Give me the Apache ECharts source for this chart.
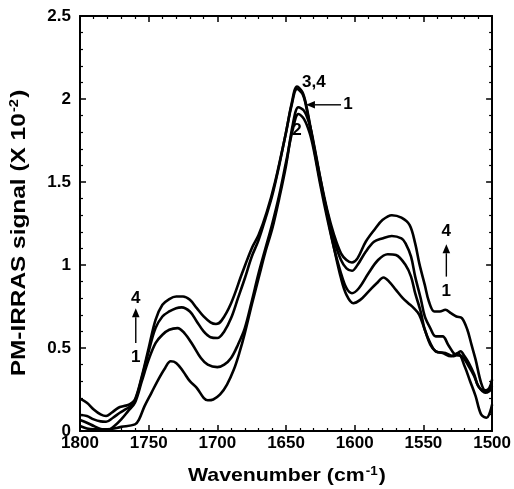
<!DOCTYPE html>
<html>
<head>
<meta charset="utf-8">
<script src="https://cdn.jsdelivr.net/npm/echarts@6/dist/echarts.min.js"></script>
<style>html,body{margin:0;padding:0;background:#fff}#c{width:514px;height:489px}</style>
</head>
<body>
<div id="c"></div>
<script>
// Axis ticks
const xTicks = [1500, 1550, 1600, 1650, 1700, 1750, 1800];
const yTicks = [0, 0.5, 1, 1.5, 2, 2.5];

// Spectra: [wavenumber (cm-1), PM-IRRAS signal (x 10^-2)]
const curve4 = [[1800,0.195],[1795,0.17],[1790,0.13],[1785,0.10],[1781,0.09],[1777,0.11],[1772,0.14],[1768,0.15],[1764,0.16],[1760,0.19],[1755,0.33],[1750,0.50],[1745,0.67],[1740,0.76],[1735,0.795],[1730,0.81],[1725,0.81],[1720,0.79],[1715,0.74],[1710,0.69],[1705,0.655],[1701,0.645],[1697,0.665],[1690,0.77],[1682,0.95],[1675,1.10],[1670,1.18],[1664,1.32],[1658,1.50],[1650,1.80],[1646,1.97],[1642,2.075],[1638,2.04],[1635,1.95],[1630,1.73],[1625,1.52],[1620,1.33],[1615,1.18],[1610,1.07],[1606,1.03],[1602,1.015],[1598,1.04],[1592,1.14],[1585,1.22],[1580,1.27],[1573,1.30],[1566,1.285],[1560,1.24],[1556,1.13],[1553,1.01],[1549,0.88],[1546,0.78],[1542,0.72],[1538,0.72],[1534,0.73],[1530,0.71],[1526,0.69],[1522,0.68],[1518,0.61],[1515,0.52],[1512,0.43],[1508,0.29],[1505,0.245],[1502,0.26],[1500,0.31]];
const curve3 = [[1800,0.096],[1795,0.09],[1790,0.07],[1785,0.058],[1781,0.056],[1776,0.08],[1771,0.11],[1767,0.13],[1763,0.15],[1760,0.18],[1755,0.32],[1750,0.48],[1745,0.62],[1740,0.69],[1735,0.72],[1730,0.74],[1726,0.745],[1720,0.72],[1715,0.66],[1710,0.60],[1705,0.565],[1700,0.56],[1695,0.60],[1690,0.68],[1685,0.80],[1680,0.92],[1675,1.05],[1670,1.15],[1665,1.28],[1660,1.42],[1655,1.60],[1650,1.80],[1646,1.96],[1642,2.06],[1638,2.03],[1635,1.94],[1630,1.72],[1625,1.50],[1620,1.32],[1615,1.15],[1610,1.03],[1606,0.98],[1602,0.965],[1598,1.0],[1592,1.08],[1586,1.14],[1580,1.16],[1573,1.175],[1566,1.16],[1563,1.13],[1559,1.05],[1556,0.93],[1552,0.80],[1549,0.69],[1545,0.62],[1541,0.57],[1536,0.57],[1532,0.52],[1527,0.46],[1522,0.45],[1517,0.39],[1513,0.33],[1510,0.27],[1505,0.23],[1502,0.24],[1500,0.26]];
const curve2 = [[1800,0.066],[1795,0.05],[1790,0.03],[1785,0.012],[1780,0.005],[1775,0.03],[1770,0.07],[1765,0.12],[1760,0.17],[1755,0.30],[1750,0.43],[1745,0.53],[1740,0.58],[1735,0.61],[1729,0.62],[1724,0.59],[1718,0.52],[1712,0.44],[1707,0.40],[1700,0.385],[1695,0.40],[1690,0.44],[1685,0.52],[1680,0.62],[1675,0.78],[1670,0.95],[1665,1.10],[1660,1.25],[1655,1.42],[1650,1.62],[1645,1.82],[1641,1.91],[1637,1.88],[1633,1.80],[1630,1.70],[1625,1.48],[1620,1.28],[1615,1.10],[1610,0.95],[1606,0.86],[1602,0.83],[1597,0.86],[1590,0.95],[1583,1.03],[1576,1.065],[1570,1.06],[1563,1.0],[1559,0.93],[1556,0.83],[1552,0.72],[1549,0.61],[1545,0.53],[1541,0.48],[1534,0.47],[1528,0.45],[1523,0.48],[1520,0.45],[1517,0.41],[1513,0.34],[1510,0.27],[1505,0.24],[1502,0.25],[1500,0.275]];
const curve1 = [[1800,0.03],[1795,0.015],[1790,0.01],[1780,0.01],[1770,0.025],[1760,0.04],[1757,0.07],[1753,0.15],[1748,0.23],[1743,0.31],[1738,0.38],[1734,0.42],[1730,0.41],[1725,0.36],[1720,0.30],[1715,0.26],[1710,0.20],[1707,0.185],[1703,0.19],[1698,0.22],[1693,0.28],[1688,0.37],[1684,0.47],[1680,0.59],[1675,0.76],[1670,0.92],[1665,1.08],[1660,1.22],[1655,1.40],[1650,1.60],[1645,1.85],[1641,1.95],[1637,1.93],[1633,1.85],[1630,1.74],[1625,1.52],[1620,1.30],[1615,1.10],[1610,0.92],[1606,0.82],[1601,0.77],[1596,0.79],[1590,0.84],[1584,0.89],[1579,0.925],[1575,0.90],[1570,0.85],[1565,0.80],[1561,0.77],[1557,0.74],[1553,0.70],[1549,0.61],[1545,0.52],[1541,0.48],[1536,0.47],[1530,0.45],[1525,0.47],[1520,0.39],[1516,0.30],[1512,0.21],[1508,0.10],[1504,0.08],[1500,0.16]];

// Annotations in data coordinates
const annoLabels = [
  {t:'3,4', x:1629.7, y:2.10},
  {t:'1', x:1605, y:1.965},
  {t:'2', x:1642, y:1.81},
  {t:'4', x:1759.4, y:0.80},
  {t:'1', x:1759.4, y:0.446},
  {t:'4', x:1533.3, y:1.20},
  {t:'1', x:1533.3, y:0.84}
];
const annoArrows = [
  {from:[1610, 1.965], to:[1635.5, 1.965]},
  {from:[1759.4, 0.53], to:[1759.4, 0.74]},
  {from:[1533.3, 0.93], to:[1533.3, 1.125]}
];

const FONT = '"Liberation Sans", Arial, Helvetica, sans-serif';
const chart = echarts.init(document.getElementById('c'), null, {renderer:'canvas'});

function xAxisCfg(pos, showLabel){
  return {
    type:'value', position:pos, min:1500, max:1800, interval:50, inverse:true,
    axisLine:{show:true, onZero:false, lineStyle:{color:'#000', width:2}},
    axisTick:{show:true, inside:true, length:6, lineStyle:{color:'#000', width:1.5}},
    minorTick:{show:true, splitNumber:5, length:3, lineStyle:{color:'#000', width:1.2}},
    splitLine:{show:false}, minorSplitLine:{show:false},
    axisLabel:{show:showLabel, margin:4, color:'#000', fontSize:17, fontWeight:'bold', fontFamily:FONT,
      formatter: v => String(v)}
  };
}
function yAxisCfg(pos, showLabel){
  return {
    type:'value', position:pos, min:0, max:2.5, interval:0.5,
    axisLine:{show:true, onZero:false, lineStyle:{color:'#000', width:2}},
    axisTick:{show:true, inside:true, length:6, lineStyle:{color:'#000', width:1.5}},
    minorTick:{show:true, splitNumber:5, length:3, lineStyle:{color:'#000', width:1.2}},
    splitLine:{show:false}, minorSplitLine:{show:false},
    axisLabel:{show:showLabel, margin:9, color:'#000', fontSize:17, fontWeight:'bold', fontFamily:FONT,
      formatter: v => String(v)}
  };
}

const curves = [curve1, curve2, curve3, curve4];
chart.setOption({
  animation:false,
  backgroundColor:'#fff',
  grid:{left:80, right:21, top:16, bottom:58, containLabel:false},
  xAxis:[xAxisCfg('bottom', true), xAxisCfg('top', false)],
  yAxis:[yAxisCfg('left', true), yAxisCfg('right', false)],
  series: curves.map((d, i) => ({
    type:'line', name:'Spectrum ' + (i+1), data:d, xAxisIndex:0, yAxisIndex:0,
    showSymbol:false, smooth:0.35, clip:true,
    lineStyle:{color:'#000', width:2.6}
  }))
});

// Build annotation graphics from data coordinates
const g = [];
annoLabels.forEach(a => {
  const p = chart.convertToPixel({xAxisIndex:0, yAxisIndex:0}, [a.x, a.y]);
  g.push({type:'text', x:p[0], y:p[1], z:100,
    style:{text:a.t, fill:'#000', font:'bold 17px ' + FONT, align:'center', verticalAlign:'middle'}});
});
annoArrows.forEach(a => {
  const p0 = chart.convertToPixel({xAxisIndex:0, yAxisIndex:0}, a.from);
  const p1 = chart.convertToPixel({xAxisIndex:0, yAxisIndex:0}, a.to);
  const dx = p1[0]-p0[0], dy = p1[1]-p0[1];
  const L = Math.sqrt(dx*dx+dy*dy), ux = dx/L, uy = dy/L;
  const hl = 9, hw = 3.8;
  const bx = p1[0]-ux*hl, by = p1[1]-uy*hl;
  g.push({type:'line', z:100, shape:{x1:p0[0], y1:p0[1], x2:bx, y2:by}, style:{stroke:'#000', lineWidth:1.4}});
  g.push({type:'polygon', z:100, shape:{points:[[p1[0],p1[1]],[bx-uy*hw, by+ux*hw],[bx+uy*hw, by-ux*hw]]}, style:{fill:'#000'}});
});
// Axis titles
g.push({type:'text', x:287, y:476, z:100, scaleX:1.12,
  style:{text:'Wavenumber (cm{sup|-1})', fill:'#000', font:'bold 19px ' + FONT, align:'center', verticalAlign:'middle',
    rich:{sup:{fontSize:12, fontWeight:'bold', fontFamily:FONT, verticalAlign:'top', fill:'#000', padding:[0,1,8,1]}}}});
g.push({type:'text', x:19, y:233, z:100, rotation:Math.PI/2, scaleX:1.22,
  style:{text:'PM-IRRAS signal (X 10{sup|-2})', fill:'#000', font:'bold 20px ' + FONT, align:'center', verticalAlign:'middle',
    rich:{sup:{fontSize:12, fontWeight:'bold', fontFamily:FONT, verticalAlign:'top', fill:'#000', padding:[0,1,8,1]}}}});
chart.setOption({graphic:g});
</script>
</body>
</html>
